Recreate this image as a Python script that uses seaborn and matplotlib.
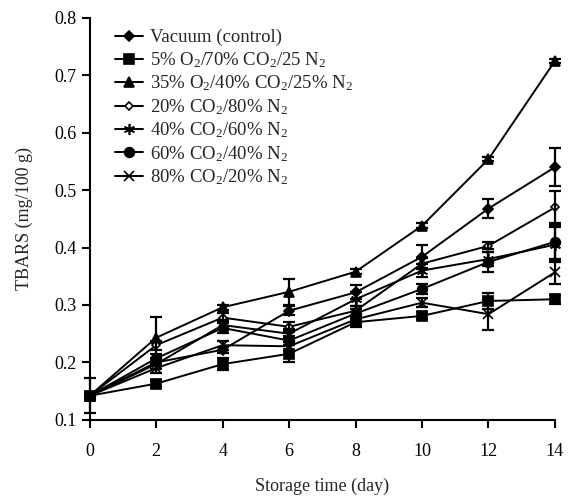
import numpy as np
import pandas as pd
import seaborn as sns
import matplotlib.pyplot as plt

days = [0, 2, 4, 6, 8, 10, 12, 14]

labels = ['Vacuum (control)',
          '5% O$_2$/70% CO$_2$/25 N$_2$',
          '35% O$_2$/40% CO$_2$/25% N$_2$',
          '20% CO$_2$/80% N$_2$',
          '40% CO$_2$/60% N$_2$',
          '60% CO$_2$/40% N$_2$',
          '80% CO$_2$/20% N$_2$']

vacuum = [0.142, 0.200, 0.222, 0.290, 0.322, 0.384, 0.468, 0.540]
o2_5 = [0.142, 0.163, 0.197, 0.215, 0.270, 0.281, 0.307, 0.310]
o2_35 = [0.142, 0.243, 0.296, 0.323, 0.358, 0.438, 0.554, 0.725]
co2_20 = [0.142, 0.230, 0.278, 0.262, 0.290, 0.372, 0.403, 0.470]
co2_40 = [0.142, 0.197, 0.265, 0.250, 0.310, 0.360, 0.380, 0.405]
co2_60 = [0.142, 0.207, 0.260, 0.238, 0.285, 0.328, 0.375, 0.410]
co2_80 = [0.142, 0.190, 0.230, 0.228, 0.275, 0.304, 0.284, 0.357]

vacuum_err = [0.030, 0.004, 0.005, 0.008, 0.012, 0.020, 0.017, 0.033]
o2_5_err = [0.004, 0.006, 0.010, 0.015, 0.008, 0.006, 0.014, 0.008]
o2_35_err = [0.004, 0.036, 0.004, 0.023, 0.004, 0.004, 0.004, 0.004]
co2_20_err = [0.004, 0.008, 0.008, 0.008, 0.008, 0.010, 0.006, 0.028]
co2_40_err = [0.004, 0.008, 0.008, 0.008, 0.012, 0.012, 0.012, 0.030]
co2_60_err = [0.004, 0.008, 0.008, 0.008, 0.008, 0.008, 0.017, 0.030]
co2_80_err = [0.004, 0.008, 0.008, 0.008, 0.008, 0.008, 0.027, 0.020]

sns.set_style('ticks')
plt.rcParams['font.family'] = ['Liberation Serif', 'DejaVu Serif']
plt.rcParams['mathtext.default'] = 'regular'

series = [vacuum, o2_5, o2_35, co2_20, co2_40, co2_60, co2_80]
errors = [vacuum_err, o2_5_err, o2_35_err, co2_20_err, co2_40_err, co2_60_err, co2_80_err]
markers = ['D', 's', '^', 'D', (6, 2, 0), 'o', 'x']
msizes = [5, 7, 7, 4.5, 8, 7, 7]
faces = ['k', 'k', 'k', 'white', 'k', 'k', 'k']

f, ax = plt.subplots(figsize=(5.68, 4.98), dpi=100)
f.subplots_adjust(left=0.158, right=0.977, bottom=0.157, top=0.964)

for vals, err, lab, m, ms, fc in zip(series, errors, labels, markers, msizes, faces):
    df = pd.DataFrame({'day': days, 'tbars': vals})
    sns.lineplot(data=df, x='day', y='tbars', ax=ax, color='k', linewidth=1.4,
                 marker=m, markersize=ms, markerfacecolor=fc, markeredgecolor='k',
                 markeredgewidth=1.2, label=lab, clip_on=False)
    ax.errorbar(days, vals, yerr=err, fmt='none', ecolor='k', elinewidth=1.6,
                capsize=4, capthick=1.6, clip_on=False)

ax.set_xlim(0, 14)
ax.set_ylim(0.1, 0.8)
ax.set_xticks(days)
ax.set_yticks(np.arange(0.1, 0.81, 0.1))
ax.set_yticklabels(['%.1f' % v for v in np.arange(0.1, 0.81, 0.1)])
ax.tick_params(direction='out', length=5.5, width=1.5, labelsize=13, colors='k')
ax.tick_params(axis='x', pad=11)
ax.tick_params(axis='y', pad=4)
for s in ['left', 'bottom']:
    ax.spines[s].set_linewidth(1.5)
    ax.spines[s].set_color('k')
sns.despine(ax=ax)

ax.set_xlabel('Storage time (day)', fontsize=13, labelpad=13)
ax.set_ylabel('TBARS (mg/100 g)', fontsize=13, labelpad=15)

ax.legend(loc='upper left', bbox_to_anchor=(0.03, 1.0), frameon=False, fontsize=13.5,
          labelspacing=0.2, handlelength=1.5, handletextpad=0.35, borderaxespad=0.2)

plt.savefig('out.png', dpi=100)
